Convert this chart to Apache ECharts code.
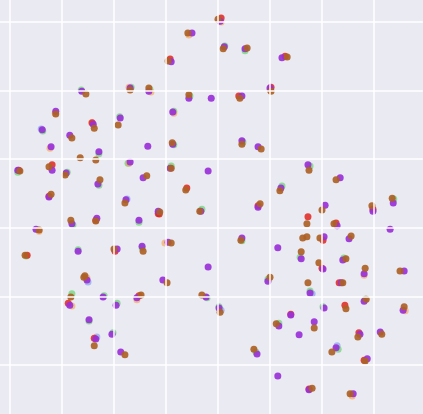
<!DOCTYPE html>
<html>
<head>
<meta charset="utf-8">
<script src="https://cdn.jsdelivr.net/npm/echarts@6/dist/echarts.min.js"></script>
<style>html,body{margin:0;padding:0;background:#EAEAF2;}#c{width:423px;height:414px;}</style>
</head>
<body>
<div id="c"></div>
<script>
// Embedding coordinates (abstract units)
const purplePts = [
[35.0,48.4],[31.0,44.2],[13.8,39.9],[23.1,40.4],[26.7,39.9],[34.4,38.9],[38.7,38.9],[8.8,37.0],[21.2,36.0],[16.0,35.1],[31.3,36.9],[6.2,34.3],[11.5,33.5],
[40.4,50.1],[41.2,46.4],[45.2,46.1],[52.3,44.8],[50.0,40.4],[44.6,39.2],
[7.9,31.8],[17.1,31.1],[26.5,31.9],[31.3,32.2],[23.1,29.6],[1.5,28.4],[8.1,28.4],[10.8,28.0],[16.9,26.4],[25.6,27.3],[30.8,28.7],[38.1,28.3],[7.5,24.5],[22.3,24.1],[28.5,22.4],[36.7,22.4],[11.9,20.6],[16.7,21.4],[24.8,21.1],[5.0,19.8],[13.1,16.6],[20.6,16.9],[25.4,17.3],[30.4,17.9],[38.1,14.3],
[44.6,32.7],[47.7,31.8],[57.3,29.2],[63.5,27.3],[52.1,25.8],[47.7,23.0],[60.6,23.3],[73.7,23.6],[69.8,22.4],[62.9,20.3],[73.1,19.8],[51.5,17.1],[44.6,18.5],[60.4,18.7],[65.2,18.4],[56.0,15.5],[60.2,14.0],[64.0,15.3],[68.1,13.3],[75.8,13.7],
[14.8,12.4],[29.4,12.4],[11.5,8.7],[17.9,9.9],[20.4,8.7],[24.4,9.8],[37.7,9.9],[15.2,6.6],[19.6,4.5],[16.5,3.8],[21.3,1.9],
[49.6,12.2],[63.7,12.0],[57.7,10.5],[40.2,8.3],[60.4,8.3],[68.1,9.3],[75.6,8.0],[54.0,7.3],[51.7,5.7],[58.5,6.3],[55.6,4.4],[67.3,4.5],[71.2,4.8],[47.5,1.6],[62.7,2.5],[68.7,0.9],[51.5,-1.6],[57.5,-3.6],[66.0,-4.2]
];
const brownPts = [
[34.2,48.4],[30.4,44.3],[14.6,39.5],[23.1,40.1],[26.7,40.4],[34.4,39.4],[8.8,36.6],[20.8,35.0],[16.2,34.5],[11.9,33.1],
[40.0,50.4],[41.0,46.1],[45.6,46.2],[53.3,44.9],[50.2,39.9],[44.2,38.9],
[13.5,30.2],[16.5,29.9],[31.2,32.4],[1.9,28.3],[7.5,28.9],[10.6,27.7],[17.3,27.0],[26.3,27.6],[31.0,28.7],[7.9,24.9],[22.1,23.6],[33.8,25.5],[28.8,22.3],[36.5,22.4],[11.7,21.1],[16.5,21.0],[5.6,19.7],[2.9,16.0],[20.0,16.9],[25.6,16.6],[31.0,17.8],[14.4,13.0],
[44.6,32.2],[48.3,31.5],[57.5,28.4],[62.7,27.0],[51.9,25.4],[48.1,23.5],[60.0,22.6],[57.1,20.6],[73.5,24.3],[69.6,23.2],[62.3,20.6],[44.4,18.2],[56.3,18.5],[57.1,18.7],[59.6,18.5],[65.6,18.8],[56.0,16.5],[59.4,14.9],[64.6,15.5],[68.3,14.1],[75.0,13.7],[50.0,12.8],
[14.2,12.8],[30.2,12.0],[11.7,9.9],[25.2,10.2],[36.9,10.2],[16.2,2.8],[22.1,1.5],
[57.3,12.0],[64.0,12.0],[40.4,7.7],[64.6,8.2],[68.5,9.6],[75.8,8.5],[51.2,6.0],[58.5,5.4],[66.9,4.1],[71.5,4.5],[46.9,2.3],[61.9,1.9],[68.3,0.6],[58.1,-3.4],[65.4,-4.2]
];
const redPts = [
[30.8,44.6],[40.6,50.6],[52.9,45.0],[50.2,40.5],[44.0,39.2],[8.1,29.2],[1.7,28.4],[34.0,25.8],[28.7,22.0],[3.3,16.0],[57.3,21.6],[20.2,16.6],[47.7,23.2],[69.8,22.7],[62.7,20.7],[60.2,18.2],[60.0,14.1],[63.3,12.0],[64.4,8.7],[54.0,7.4],[67.1,4.7],[68.1,0.7],[57.5,-3.5],[7.5,24.6],[11.2,9.0],[16.2,3.9],[24.8,10.1],[16.5,21.1],[15.8,35.3],[28.5,22.1]
];
const greenPts = [
[13.7,40.1],[23.3,40.5],[26.9,40.2],[34.6,39.2],[21.1,36.2],[31.5,37.0],[6.3,34.1],[41.3,46.5],[45.2,45.8],[17.1,30.8],[31.5,32.1],[22.7,29.4],[1.5,28.1],[11.0,28.1],[17.1,26.2],[31.0,29.0],[36.9,22.7],[12.1,20.4],[24.8,20.8],[13.1,16.8],[25.4,17.1],[3.1,15.9],[44.8,32.5],[57.7,29.0],[52.3,26.1],[73.8,24.2],[44.6,18.1],[55.8,15.7],[64.2,15.6],[11.9,10.4],[18.1,10.1],[20.6,9.0],[15.2,6.4],[19.8,4.7],[37.9,9.8],[57.7,10.8],[60.2,8.5],[68.3,9.6],[51.7,6.1],[47.3,1.9],[63.1,2.3],[49.6,12.5],[40.2,8.5]
];
const orangePts = [
[34.4,48.1],[22.9,40.5],[27.1,39.8],[8.7,36.7],[15.7,35.3],[31.5,36.7],[40.6,50.0],[50.0,40.1],[7.7,31.6],[22.9,29.4],[5.6,19.5],[29.8,17.8],[11.9,8.6],[24.4,9.5],[68.1,13.1],[65.8,-4.5],[76.0,7.9],[14.8,12.7]
];
const bluePts = [
[6.0,34.4],[22.5,24.2],[15.0,12.1],[16.7,4.1],[58.1,10.4],[62.9,2.8],[40.6,8.0]
];
// Axis extent and grid-line values
const xRange = [-1.923, 79.423];
const yRange = [-7.14, 53.21];
const xGrid = [0, 10, 20, 30, 40, 50, 60, 70];
const yGrid = [0, 10, 20, 30, 40, 50];

const chart = echarts.init(document.getElementById('c'), null, {renderer:'canvas'});
function s(name, data, color, op){
  return {name:name, type:'scatter', data:data, symbolSize:7,
    itemStyle:{color:color, opacity:op}, silent:true};
}
const gridLines = xGrid.map(v => ({xAxis:v})).concat(yGrid.map(v => ({yAxis:v})));
chart.setOption({
  animation:false,
  backgroundColor:'#EAEAF2',
  grid:{left:0, top:0, right:0, bottom:0, show:false},
  xAxis:{type:'value', min:xRange[0], max:xRange[1],
    axisLine:{show:false}, axisTick:{show:false}, axisLabel:{show:false},
    splitLine:{show:false}},
  yAxis:{type:'value', min:yRange[0], max:yRange[1],
    axisLine:{show:false}, axisTick:{show:false}, axisLabel:{show:false},
    splitLine:{show:false}},
  series:[
    {name:'grid', type:'scatter', data:[], silent:true,
     markLine:{silent:true, animation:false, symbol:['none','none'], label:{show:false},
       lineStyle:{color:'#ffffff', width:1.5, type:'solid', opacity:1},
       emphasis:{disabled:true}, data:gridLines}},
    s('blue', bluePts, '#6f8fe8', 0.55),
    s('green', greenPts, '#4fd05a', 0.6),
    s('orange', orangePts, '#f7a04a', 0.6),
    s('red', redPts, '#e2261e', 0.85),
    s('purple', purplePts, '#9a30d8', 0.92),
    s('brown', brownPts, '#ad6125', 0.92)
  ]
});
</script>
</body>
</html>
